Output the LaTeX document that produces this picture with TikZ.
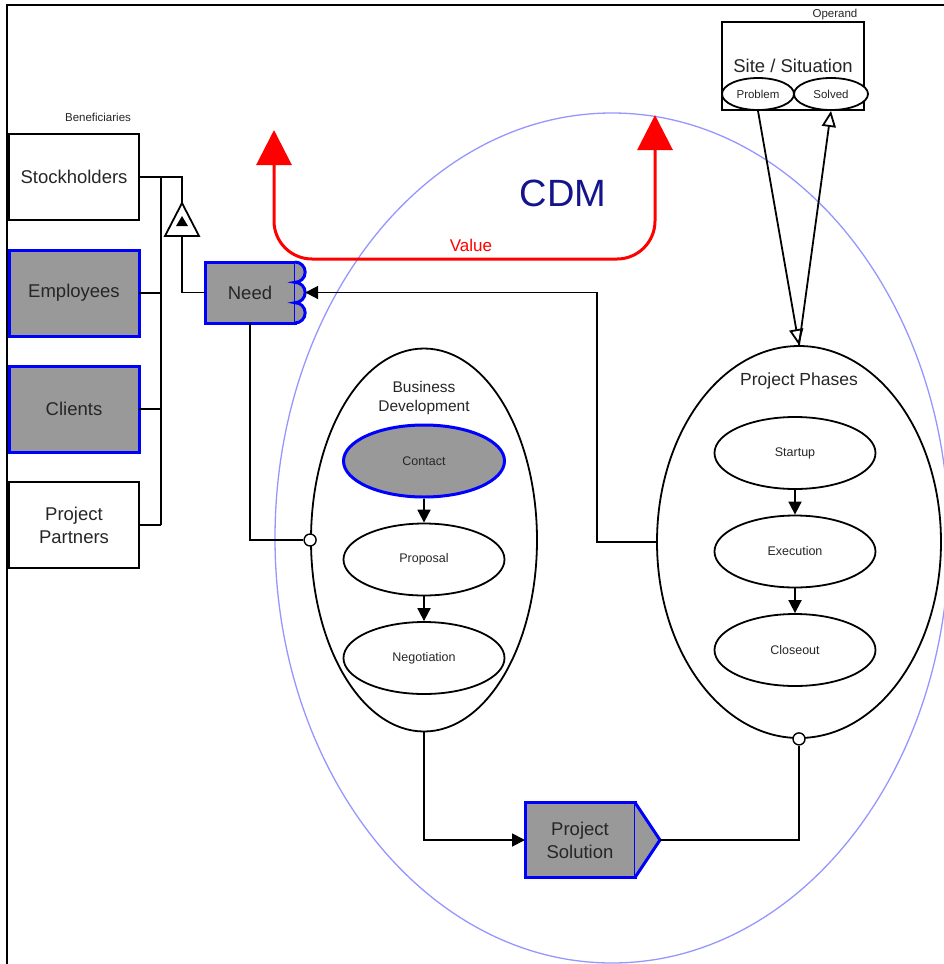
\documentclass[tikz,border=0pt]{standalone}
\usepackage{fontspec}
\setmainfont{Liberation Sans}
\usetikzlibrary{shapes.geometric,arrows.meta}
\definecolor{keygray}{gray}{0.6}
\definecolor{cdmblue}{RGB}{150,150,255}
\definecolor{cdmnavy}{RGB}{20,20,140}

\begin{document}
\begin{tikzpicture}[x=1pt,y=-1pt,line width=1.8pt,text=black!85,
    benebox/.style={draw,minimum width=130pt,minimum height=86pt,outer sep=0pt,
      align=center,font=\fontsize{18.5}{23}\selectfont},
    keybox/.style={benebox,fill=keygray,draw=blue,line width=3pt},
    stageell/.style={ellipse,draw,minimum width=161pt,minimum height=72pt,
      inner sep=0pt,font=\fontsize{12.5}{14}\selectfont},
    keyell/.style={stageell,fill=keygray,draw=blue,line width=3pt},
    port/.style={circle,draw,fill=white,minimum size=12pt,inner sep=0pt,line width=1.4pt},
    flow/.style={-{Triangle[length=13pt,width=13pt]}},
    operand/.style={-{Triangle[open,length=16pt,width=14pt,fill=white]}},
    tiny/.style={font=\fontsize{11.5}{13}\selectfont}]
    \useasboundingbox (0,0) rectangle (944,964);
    \draw[line width=2.5pt] (7,964) -- (7,5) -- (944,5);
    % the CDM scope
    \node[ellipse,draw=cdmblue,line width=1.3pt,minimum width=674pt,minimum height=850pt] (cdm) at (612,538) {};
    \node[text=cdmnavy,font=\fontsize{38}{40}\selectfont] (cdmtext) at (563,193) {CDM};
    % value flow
    \coordinate (valL) at (274,130);
    \coordinate (valR) at (655,115);
    \draw[red,line width=3pt,rounded corners=38pt,
      {Triangle[length=35pt,width=35pt]}-{Triangle[length=35pt,width=35pt]}]
      (valL) -- (274,259) -- (655,259) -- (valR);
    \node[text=red,font=\fontsize{17}{20}\selectfont] (value) at (471,245) {Value};
    % beneficiaries
    \node[tiny] (benetitle) at (98,117) {Beneficiaries};
    \foreach \N/\T/\S [count=\i] in
      {stk/Stockholders/benebox,emp/Employees/keybox,cli/Clients/keybox,ptn/{Project\\Partners}/benebox}
     {\node[\S] (\N) at (74,{177+116*(\i-1)}) {\T};
      \draw (\N.east) -- ++(22,0);}
    \draw ([xshift=22pt]stk.east) -- ([xshift=22pt]ptn.east);
    % need
    \node[fill=keygray,draw=blue,line width=3pt,minimum width=90pt,minimum height=61pt,
      outer sep=0pt,font=\fontsize{18.5}{23}\selectfont] (need) at (250,292.5) {Need};
    \filldraw[fill=keygray,draw=blue,line width=3pt] (need.north east)
      arc[start angle=90,end angle=-90,radius=10.17pt]
      arc[start angle=90,end angle=-90,radius=10.17pt]
      arc[start angle=90,end angle=-90,radius=10.17pt];
    \coordinate (needtip) at ([xshift=10.17pt]need.east);
    \draw (stk.east) -- ++(43,0) |- (need.west);
    \coordinate (gen) at (182,203);
    \filldraw[fill=white] (gen) -- ++(17,33) -- ++(-34,0) -- cycle;
    \fill (182,216) -- ++(6,10) -- ++(-12,0) -- cycle;
    % business development
    \node[ellipse,draw,minimum width=226pt,minimum height=383pt,inner sep=0pt] (bd) at (424,540) {};
    \node[font=\fontsize{15.5}{19}\selectfont,align=center] (bdtitle) at (424,398) {Business\\Development};
    \foreach \N/\T/\S [count=\i,remember=\N as \lastN (initially con)] in
      {con/Contact/keyell,pro/Proposal/stageell,neg/Negotiation/stageell}
     {\node[\S] (\N) at (424,{461+98.5*(\i-1)}) {\T};
      \ifnum\i>1 \draw[flow] (\lastN) -- (\N); \fi}
    % project phases
    \node[ellipse,draw,minimum width=284pt,minimum height=392pt,inner sep=0pt] (pp) at (799,542) {};
    \node[font=\fontsize{17.5}{20}\selectfont] (pptitle) at (799,381) {Project Phases};
    \foreach \N/\T [count=\i,remember=\N as \lastN (initially sta)] in
      {sta/Startup,exe/Execution,clo/Closeout}
     {\node[stageell] (\N) at (795,{453+98.5*(\i-1)}) {\T};
      \ifnum\i>1 \draw[flow] (\lastN) -- (\N); \fi}
    % project solution
    \node[fill=keygray,draw=blue,line width=3pt,minimum width=110pt,minimum height=75pt,
      outer sep=0pt,align=center,font=\fontsize{18.5}{23}\selectfont] (sol) at (580,840) {Project\\Solution};
    \filldraw[fill=keygray,draw=blue,line width=3pt] (sol.north east) -- ++(25,37.5) coordinate (soltip) -- (sol.south east);
    % operand
    \node[draw,minimum width=142pt,minimum height=88pt,outer sep=0pt,
      font=\fontsize{18.5}{20}\selectfont] (site) at (793,66) {Site / Situation};
    \node[tiny] (operandtitle) at (835,15) {Operand};
    \node[ellipse,draw,fill=white,minimum width=72pt,minimum height=32pt,inner sep=0pt,
      font=\fontsize{11.5}{13}\selectfont] (prob) at (758,94) {Problem};
    \node[ellipse,draw,fill=white,minimum width=74pt,minimum height=32pt,inner sep=0pt,
      font=\fontsize{11.5}{13}\selectfont] (solv) at (831,94) {Solved};
    % connectors
    \node[port] (bdport) at (bd.west) {};
    \node[port] (ppport) at (pp.south) {};
    \draw (need.south) |- (bdport);
    \draw[flow] (pp.west) -- ++(-59,0) |- (needtip);
    \draw[flow] (bd.south) |- (sol.west);
    \draw (soltip) -| (ppport);
    \draw[operand] (prob.south) -- (pp.north);
    \draw[operand] (pp.north) -- (solv.south);
\end{tikzpicture}
\end{document}
